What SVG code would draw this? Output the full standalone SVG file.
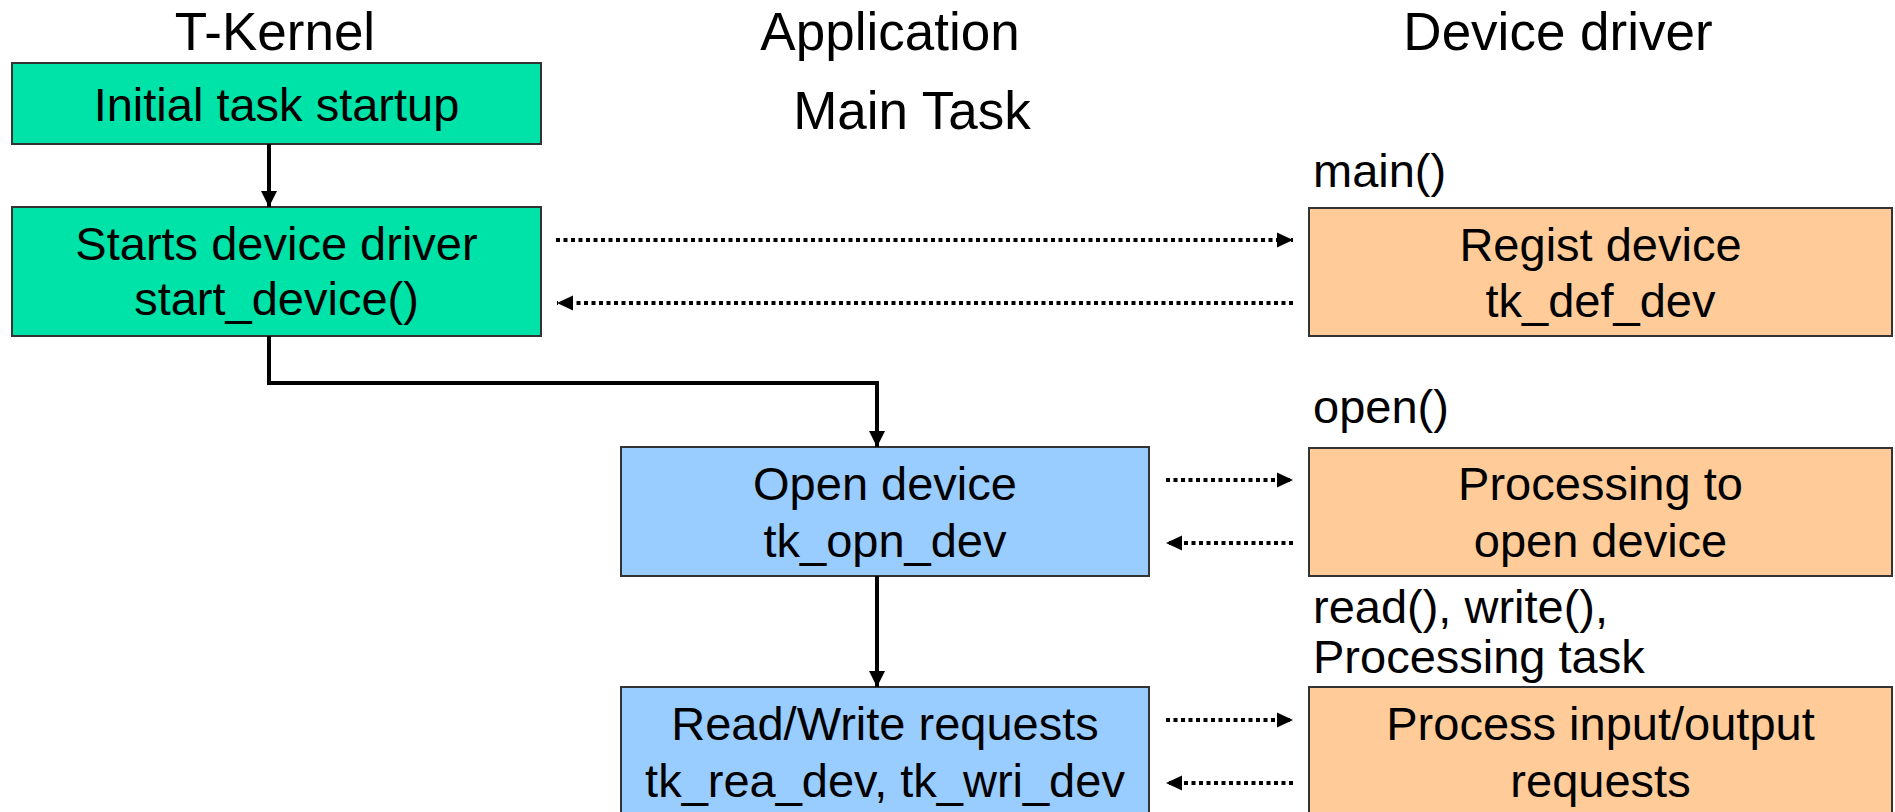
<svg xmlns="http://www.w3.org/2000/svg" width="1895" height="812" viewBox="0 0 1895 812">
<defs>
<marker id="ahs" viewBox="0 0 10 10" refX="10" refY="5" markerWidth="16" markerHeight="16" orient="auto" markerUnits="userSpaceOnUse">
<path d="M0,0 L10,5 L0,10 Z" fill="#000"/>
</marker>
<marker id="ahd" viewBox="0 0 10 10" refX="10" refY="5" markerWidth="16" markerHeight="16" orient="auto" markerUnits="userSpaceOnUse">
<path d="M0,0.3 L10,5 L0,9.7 Z" fill="#000"/>
</marker>
</defs>
<style>
text{font-family:"Liberation Sans",Arial,sans-serif;fill:#000}
.title{font-size:53px;text-anchor:middle}
.bt{font-size:47px;text-anchor:middle}
.lb{font-size:47px}
.box{stroke:#333;stroke-width:2}
.green{fill:#00E3A8}
.blue{fill:#99CCFF}
.orange{fill:#FFCC99}
.solid{stroke:#000;stroke-width:4;fill:none;marker-end:url(#ahs)}
.dot{stroke:#000;stroke-width:4;fill:none;stroke-dasharray:4 3.5;marker-end:url(#ahd)}
</style>
<g id="titles">
<text class="title" x="275" y="50">T-Kernel</text>
<text class="title" x="890" y="50">Application</text>
<text class="title" x="912" y="129">Main Task</text>
<text class="title" x="1558" y="50">Device driver</text>
</g>
<g id="labels">
<text class="lb" x="1313" y="187">main()</text>
<text class="lb" x="1313" y="423">open()</text>
<text class="lb" x="1313" y="623">read(), write(),</text>
<text class="lb" x="1313" y="673">Processing task</text>
</g>
<g id="initial-task">
<rect class="box green" x="12" y="63" width="529" height="81"/>
<text class="bt" x="276.5" y="121">Initial task startup</text>
</g>
<g id="start-device">
<rect class="box green" x="12" y="207" width="529" height="129"/>
<text class="bt" x="276.5" y="260">Starts device driver</text>
<text class="bt" x="276.5" y="315">start_device()</text>
</g>
<g id="open-device">
<rect class="box blue" x="621" y="447" width="528" height="129"/>
<text class="bt" x="885" y="500">Open device</text>
<text class="bt" x="885" y="557">tk_opn_dev</text>
</g>
<g id="rw-requests">
<rect class="box blue" x="621" y="687" width="528" height="140"/>
<text class="bt" x="885" y="740">Read/Write requests</text>
<text class="bt" x="885" y="797">tk_rea_dev, tk_wri_dev</text>
</g>
<g id="regist-device">
<rect class="box orange" x="1309" y="208" width="583" height="128"/>
<text class="bt" x="1600.5" y="261">Regist device</text>
<text class="bt" x="1600.5" y="317">tk_def_dev</text>
</g>
<g id="open-processing">
<rect class="box orange" x="1309" y="448" width="583" height="128"/>
<text class="bt" x="1600.5" y="500">Processing to</text>
<text class="bt" x="1600.5" y="557">open device</text>
</g>
<g id="io-processing">
<rect class="box orange" x="1309" y="687" width="583" height="140"/>
<text class="bt" x="1600.5" y="740">Process input/output</text>
<text class="bt" x="1600.5" y="797">requests</text>
</g>
<g id="connectors">
<line class="solid" x1="269" y1="144" x2="269" y2="207"/>
<polyline class="solid" points="269,336 269,383 877,383 877,447"/>
<line class="solid" x1="877" y1="576" x2="877" y2="687"/>
<line class="dot" x1="556" y1="240" x2="1293" y2="240"/>
<line class="dot" x1="1293" y1="303" x2="557" y2="303"/>
<line class="dot" x1="1166" y1="480" x2="1293" y2="480"/>
<line class="dot" x1="1293" y1="543" x2="1166" y2="543"/>
<line class="dot" x1="1166" y1="720" x2="1293" y2="720"/>
<line class="dot" x1="1293" y1="783" x2="1166" y2="783"/>
</g>
</svg>
